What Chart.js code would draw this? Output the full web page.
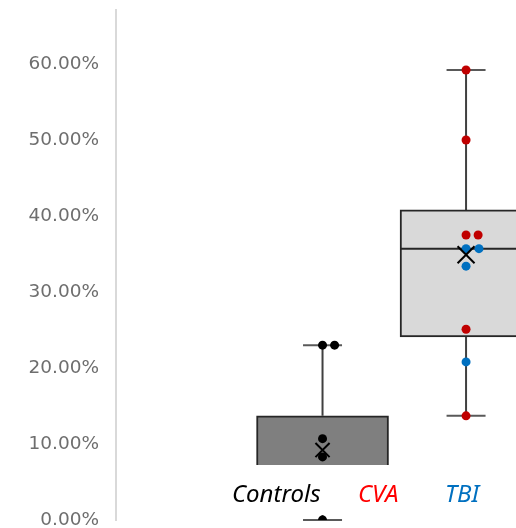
<!DOCTYPE html>
<html>
<head>
<meta charset="utf-8">
<script src="https://cdn.jsdelivr.net/npm/chart.js@4"></script>
<style>
  html, body { margin: 0; padding: 0; background: #fff; }
  #wrap { width: 516px; height: 528px; }
</style>
</head>
<body>
<div id="wrap"><canvas id="myChart" width="516" height="528"></canvas></div>
<script>
// groups (x position 1 = Controls, 2 = CVA/TBI patients)
const groups = ['Controls', 'CVA / TBI'];
const groupX = [1, 2];

// box plot summary per group
const q1 = [0.035, 0.241];
const q3 = [0.137, 0.408];
const medians = [0.06, 0.357];
const whiskerLow = [0, 0.137];
const whiskerHigh = [0.23, 0.592];
const means = [0.092, 0.349];

// individual subjects
const controlX = [1, 1.084, 1, 1, 1];
const controlY = [0.23, 0.23, 0.107, 0.083, 0];
const cvaX = [2, 2, 2, 2.084, 2, 2];
const cvaY = [0.592, 0.50, 0.375, 0.375, 0.251, 0.137];
const tbiX = [2, 2.09, 2, 2];
const tbiY = [0.357, 0.357, 0.334, 0.208];

// y axis tick labels
const yTicks = [0, 0.1, 0.2, 0.3, 0.4, 0.5, 0.6];

// legend text
const legendLabels = ['Controls', 'CVA', 'TBI'];
const legendColors = ['#000000', '#ff0000', '#0070c0'];

const toPoints = (xs, ys) => xs.map((x, i) => ({ x, y: ys[i] }));

//whiskers and caps, drawn behind the boxes
const whiskers = {
  id: 'whiskers',
  beforeDatasetsDraw(chart) {
    const { ctx, scales: { x, y } } = chart;
    ctx.save();
    ctx.lineWidth = 2;
    groupX.forEach((gx, i) => {
      const px = x.getPixelForValue(gx);
      ctx.strokeStyle = '#404040';
      ctx.beginPath();
      ctx.moveTo(px, y.getPixelForValue(whiskerHigh[i]));
      ctx.lineTo(px, y.getPixelForValue(q3[i]));
      ctx.moveTo(px, y.getPixelForValue(whiskerLow[i]));
      ctx.lineTo(px, y.getPixelForValue(q1[i]));
      ctx.stroke();
      ctx.strokeStyle = '#595959';
      ctx.beginPath();
      [whiskerHigh[i], whiskerLow[i]].forEach((v) => {
        const py = y.getPixelForValue(v);
        ctx.moveTo(px - 19.5, py);
        ctx.lineTo(px + 19.5, py);
      });
      ctx.stroke();
    });
    ctx.restore();
  },
  // median line, right after the boxes
  afterDatasetDraw(chart, args) {
    if (args.index !== 0) return;
    const { ctx, chartArea, scales: { y } } = chart;
    ctx.save();
    ctx.beginPath();
    ctx.rect(chartArea.left, chartArea.top, chartArea.right - chartArea.left, chartArea.bottom - chartArea.top);
    ctx.clip();
    ctx.strokeStyle = '#262626';
    ctx.lineWidth = 2;
    args.meta.data.forEach((bar, i) => {
      const py = y.getPixelForValue(medians[i]);
      ctx.beginPath();
      ctx.moveTo(bar.x - bar.width / 2, py);
      ctx.lineTo(bar.x + bar.width / 2, py);
      ctx.stroke();
    });
    ctx.restore();
  }
};

//text box with the group names, sits over the plot
const legendBox = {
  id: 'legendBox',
  afterDraw(chart) {
    const { ctx } = chart;
    ctx.save();
    ctx.fillStyle = '#ffffff';
    ctx.fillRect(222, 465, 300, 50);
    ctx.font = 'italic 24px "Noto Sans", sans-serif';
    ctx.textBaseline = 'alphabetic';
    const xs = [232, 358, 445];
    legendLabels.forEach((t, i) => {
      ctx.fillStyle = legendColors[i];
      ctx.fillText(t, xs[i], 502);
    });
    ctx.restore();
  }
};

const data = {
  datasets: [
    {
      type: 'bar',
      data: groupX.map((gx, i) => ({ x: gx, y: [q1[i], q3[i]] })),
      backgroundColor: ['#7f7f7f', '#d9d9d9'],
      borderColor: '#262626',
      borderWidth: 2,
      borderSkipped: false,
      barThickness: 132,
      order: 3
    },
    {
      type: 'scatter',
      label: 'Controls',
      data: toPoints(controlX, controlY),
      backgroundColor: '#000000',
      borderWidth: 0,
      pointRadius: 4.5,
      order: 2
    },
    {
      type: 'scatter',
      label: 'CVA',
      data: toPoints(cvaX, cvaY),
      backgroundColor: '#c00000',
      borderWidth: 0,
      pointRadius: 4.5,
      order: 2
    },
    {
      type: 'scatter',
      label: 'TBI',
      data: toPoints(tbiX, tbiY),
      backgroundColor: '#0070c0',
      borderWidth: 0,
      pointRadius: 4.5,
      order: 2
    },
    {
      type: 'scatter',
      label: 'Mean',
      data: toPoints(groupX, means),
      pointStyle: 'crossRot',
      borderColor: '#000000',
      borderWidth: 2,
      pointRadius: [10, 12],
      order: 1
    }
  ]
};

const config = {
  type: 'bar',
  data,
  options: {
    responsive: false,
    animation: false,
    layout: { autoPadding: false, padding: { top: 10, bottom: 8, left: 0, right: 0 } },
    plugins: {
      legend: { display: false },
      tooltip: { enabled: false }
    },
    scales: {
      x: {
        type: 'linear',
        display: false,
        offset: false,
        min: -0.439,
        max: 2.348
      },
      y: {
        min: 0,
        max: 0.671,
        grid: { display: false, drawTicks: true, tickLength: 14 },
        border: { display: true, color: '#d9d9d9', width: 2 },
        afterBuildTicks(scale) {
          scale.ticks = yTicks.map((v) => ({ value: v }));
        },
        afterFit(scale) {
          scale.width = 116;
          scale.paddingTop = 0;
          scale.paddingBottom = 0;
        },
        ticks: {
          padding: 3,
          color: '#6e6e6e',
          font: { family: '"DejaVu Sans", sans-serif', size: 18.5 },
          callback: (v) => (v * 100).toFixed(2) + '%'
        }
      }
    }
  },
  plugins: [whiskers, legendBox]
};

//render chart
new Chart(document.getElementById('myChart').getContext('2d'), config);
</script>
</body>
</html>
